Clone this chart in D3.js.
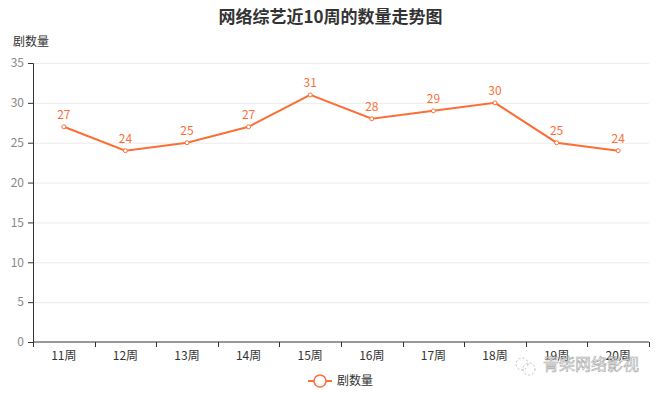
<!DOCTYPE html>
<html>
<head>
<meta charset="utf-8">
<script src="https://cdnjs.cloudflare.com/ajax/libs/d3/7.8.5/d3.min.js"></script>
<style>
  body { margin: 0; background: #fff; }
  text { font-family: "Noto Sans CJK SC", "Noto Sans", sans-serif; }
</style>
</head>
<body>
<div class="container"></div>
<script>
const weeks = ["11周", "12周", "13周", "14周", "15周", "16周", "17周", "18周", "19周", "20周"];
const counts = [27, 24, 25, 27, 31, 28, 29, 30, 25, 24];
const yTicks = [0, 5, 10, 15, 20, 25, 30, 35];
const seriesName = "剧数量";
const title = "网络综艺近10周的数量走势图";

const W = 661, H = 393;
const margin = {top: 63, right: 12, bottom: 51, left: 33};
const width = W - margin.left - margin.right;
const height = H - margin.top - margin.bottom;
const lineColor = "#fb6f37";

const svg = d3.select(".container")
  .append("svg")
    .attr("width", W)
    .attr("height", H);

const g = svg.append("g")
  .attr("transform", "translate(" + margin.left + "," + margin.top + ")");

const x = d3.scaleBand().domain(weeks).range([0, width]);
const y = d3.scaleLinear().domain([0, 35]).range([height, 0]);

// grid lines
g.selectAll(".grid")
  .data(yTicks.filter(d => d > 0))
  .enter()
  .append("line")
    .attr("x1", 0)
    .attr("x2", width)
    .attr("y1", d => y(d) + 0.5)
    .attr("y2", d => y(d) + 0.5)
    .attr("stroke", "#ececec");

// y axis
const yAxis = g.append("g")
  .call(d3.axisLeft(y).tickValues(yTicks).tickSize(5).tickPadding(4));
yAxis.select(".domain").attr("stroke", "#333");
yAxis.selectAll(".tick line").attr("stroke", "#333");
yAxis.selectAll("text").attr("fill", "#888").attr("font-size", 12);

// x axis
const xAxis = g.append("g")
  .attr("transform", "translate(0," + height + ")")
  .call(d3.axisBottom(x).tickSize(0).tickPadding(9));
xAxis.select(".domain").attr("stroke", "#333").attr("d", "M0.5,0H" + width);
xAxis.selectAll("text").attr("fill", "#333").attr("font-size", 12);

// x boundary ticks
const bounds = weeks.map(w => x(w)).concat([width]);
xAxis.selectAll(".btick")
  .data(bounds)
  .enter()
  .append("line")
    .attr("x1", d => Math.round(d) + 0.5)
    .attr("x2", d => Math.round(d) + 0.5)
    .attr("y1", 0)
    .attr("y2", 5)
    .attr("stroke", "#333");

const cx = d => x(d) + x.bandwidth() / 2;

// line
const line = d3.line()
  .x((d, i) => cx(weeks[i]))
  .y(d => y(d));

g.append("path")
  .datum(counts)
  .attr("fill", "none")
  .attr("stroke", lineColor)
  .attr("stroke-width", 2)
  .attr("d", line);

g.selectAll(".pt")
  .data(counts)
  .enter()
  .append("circle")
    .attr("cx", (d, i) => cx(weeks[i]))
    .attr("cy", d => y(d))
    .attr("r", 2)
    .attr("fill", "#fff")
    .attr("stroke", lineColor)
    .attr("stroke-width", 1);

g.selectAll(".lbl")
  .data(counts)
  .enter()
  .append("text")
    .attr("x", (d, i) => cx(weeks[i]))
    .attr("y", d => y(d) - 8)
    .attr("text-anchor", "middle")
    .attr("fill", lineColor)
    .attr("font-size", 12)
    .text(d => d);

// title
svg.append("text")
  .attr("x", W / 2)
  .attr("y", 23)
  .attr("text-anchor", "middle")
  .attr("font-size", 17)
  .attr("font-weight", "bold")
  .attr("fill", "#333")
  .text(title);

// y axis name
svg.append("text")
  .attr("x", 13)
  .attr("y", 46)
  .attr("font-size", 12)
  .attr("fill", "#333")
  .text(seriesName);

// legend
const legend = svg.append("g")
  .attr("transform", "translate(320, 381)");
legend.append("line")
  .attr("x1", -12).attr("x2", 12)
  .attr("y1", 0).attr("y2", 0)
  .attr("stroke", lineColor).attr("stroke-width", 2);
legend.append("circle")
  .attr("r", 6)
  .attr("fill", "#fff")
  .attr("stroke", lineColor)
  .attr("stroke-width", 1.5);
legend.append("text")
  .attr("x", 17)
  .attr("y", 4)
  .attr("font-size", 12)
  .attr("fill", "#333")
  .text(seriesName);

// watermark
const wm = svg.append("g").attr("transform", "translate(522, 364)");
wm.append("circle").attr("cx", 0).attr("cy", 0).attr("r", 6)
  .attr("fill", "none").attr("stroke", "#bbb").attr("stroke-dasharray", "2,2");
wm.append("circle").attr("cx", 7).attr("cy", 5).attr("r", 6)
  .attr("fill", "none").attr("stroke", "#bbb").attr("stroke-dasharray", "2,2");
wm.append("text")
  .attr("x", 21)
  .attr("y", 6)
  .attr("font-size", 16)
  .attr("fill", "#fff")
  .attr("stroke", "#999")
  .attr("stroke-width", 0.6)
  .attr("opacity", 0.85)
  .text("青柴网络影视");
</script>
</body>
</html>
